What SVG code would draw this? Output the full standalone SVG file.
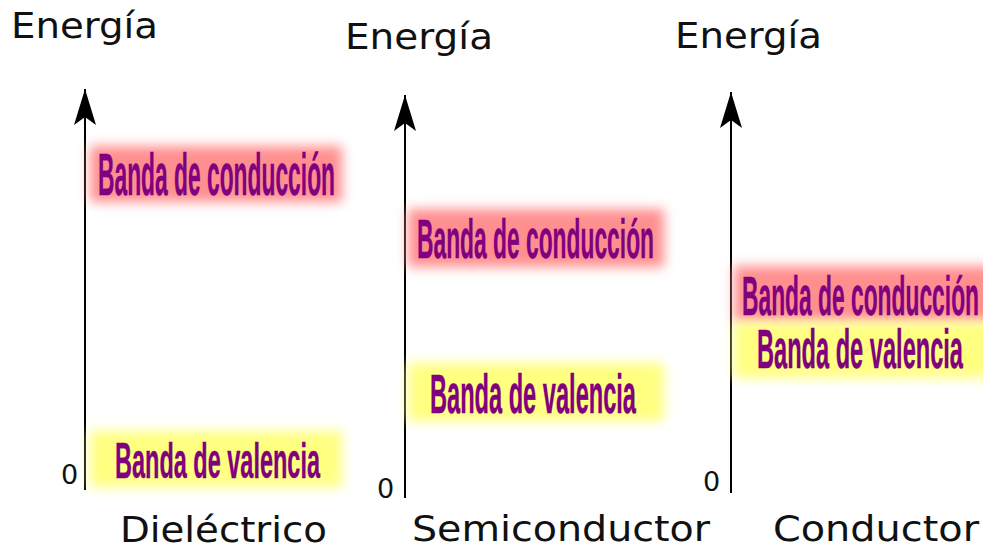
<svg xmlns="http://www.w3.org/2000/svg" width="983" height="552" viewBox="0 0 983 552">
<defs>
<style>
.t{font-family:"DejaVu Sans","Liberation Sans",sans-serif;fill:#111}
.b{font-family:"Liberation Sans","DejaVu Sans",sans-serif;font-weight:bold;fill:#800080;stroke:#800080;stroke-width:0.4}
.ax{stroke:#000;stroke-width:2;fill:none;marker-end:url(#ah)}
.red{fill:#ff8f8f;filter:url(#glow)}
.yel{fill:#ffff80;filter:url(#glow)}
</style>
<filter id="glow" x="-20%" y="-50%" width="140%" height="200%">
<feGaussianBlur stdDeviation="6"/>
</filter>
<marker id="ah" markerUnits="userSpaceOnUse" markerWidth="40" markerHeight="26" refX="38" refY="13" orient="auto" viewBox="0 0 40 26">
<path d="M38,13 L2,2 L10,13 L2,24 Z" fill="#000"/>
</marker>
</defs>
<g id="connectors">
<line class="ax" x1="85" y1="490" x2="85" y2="89"/>
<line class="ax" x1="405" y1="498" x2="405" y2="95"/>
<line class="ax" x1="731" y1="493" x2="731" y2="92"/>
</g>
<g id="dielectrico">
<text class="t" x="11" y="38" font-size="35" textLength="147" lengthAdjust="spacingAndGlyphs">Energía</text>
<rect class="red" x="90" y="146" width="252" height="56"/>
<text class="b" x="98" y="195" font-size="60" textLength="237" lengthAdjust="spacingAndGlyphs">Banda de conducción</text>
<rect class="yel" x="90" y="431" width="252" height="56"/>
<text class="b" x="115" y="478" font-size="50" textLength="205" lengthAdjust="spacingAndGlyphs">Banda de valencia</text>
<text class="t" x="61" y="484" font-size="27">0</text>
<text class="t" x="120" y="542" font-size="36" textLength="207" lengthAdjust="spacingAndGlyphs">Dieléctrico</text>
</g>
<g id="semiconductor">
<text class="t" x="345" y="49" font-size="35" textLength="148" lengthAdjust="spacingAndGlyphs">Energía</text>
<rect class="red" x="408" y="209" width="256" height="58"/>
<text class="b" x="417" y="258" font-size="56" textLength="237" lengthAdjust="spacingAndGlyphs">Banda de conducción</text>
<rect class="yel" x="408" y="363" width="256" height="58"/>
<text class="b" x="430" y="413" font-size="56" textLength="206" lengthAdjust="spacingAndGlyphs">Banda de valencia</text>
<text class="t" x="377" y="498" font-size="27">0</text>
<text class="t" x="412" y="541" font-size="36" textLength="298" lengthAdjust="spacingAndGlyphs">Semiconductor</text>
</g>
<g id="conductor">
<text class="t" x="675" y="48" font-size="35" textLength="147" lengthAdjust="spacingAndGlyphs">Energía</text>
<rect class="red" x="734" y="266" width="260" height="56"/>
<rect class="yel" x="734" y="322" width="260" height="56"/>
<text class="b" x="742" y="315" font-size="56" textLength="237" lengthAdjust="spacingAndGlyphs">Banda de conducción</text>
<text class="b" x="757" y="368" font-size="56" textLength="206" lengthAdjust="spacingAndGlyphs">Banda de valencia</text>
<text class="t" x="703" y="491" font-size="27">0</text>
<text class="t" x="773" y="541" font-size="36" textLength="206" lengthAdjust="spacingAndGlyphs">Conductor</text>
</g>
</svg>
